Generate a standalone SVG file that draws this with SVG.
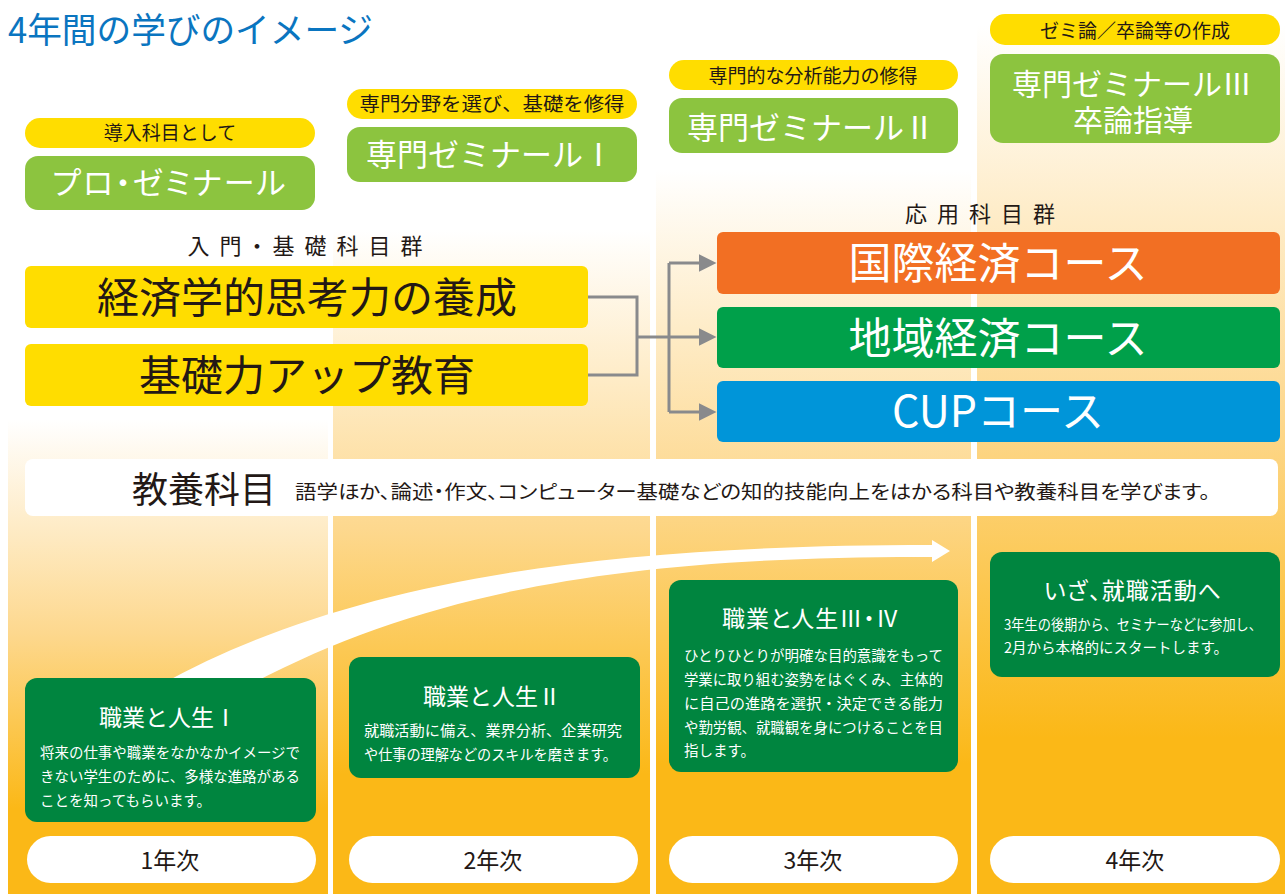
<svg xmlns="http://www.w3.org/2000/svg" width="1285" height="894" viewBox="0 0 1285 894">
<style>
text{font-family:"Noto Sans CJK JP","Noto Sans",sans-serif}
.dk{fill:#231815}
.wh{fill:#ffffff}
.pill{fill:#FFDD00}
.lg{fill:#8CC43F}
.yb{fill:#FFDD00}
.cg{fill:#00853F}
.pa{font-feature-settings:"palt"}
.conn{fill:none;stroke:#898A8C;stroke-width:3}
</style>
<defs>
<linearGradient id="colg" x1="0" y1="0" x2="0" y2="1">
<stop offset="0" stop-color="#FFFFFF"/>
<stop offset="0.45" stop-color="#FDD88E"/>
<stop offset="0.82" stop-color="#FBB817"/>
<stop offset="1" stop-color="#FBB817"/>
</linearGradient>
<marker id="ah" markerWidth="6" markerHeight="6" refX="0.5" refY="3" orient="auto" markerUnits="strokeWidth" viewBox="0 0 6 6">
<path d="M0,0 L6,3 L0,6 Z" fill="#898A8C"/>
</marker>
</defs>
<rect width="1285" height="894" fill="#ffffff"/>
<g id="columns">
<rect x="8" y="420" width="320" height="474" fill="url(#colg)"/>
<rect x="333" y="230" width="317" height="664" fill="url(#colg)"/>
<rect x="656" y="170" width="315" height="724" fill="url(#colg)"/>
<rect x="977" y="25" width="308" height="869" fill="url(#colg)"/>
</g>
<text x="8" y="43" font-size="35" fill="#0A75C0" textLength="365" lengthAdjust="spacingAndGlyphs">4年間の学びのイメージ</text>

<g id="seminar1">
<rect x="25" y="118" width="290" height="30" rx="15" class="pill"/>
<text x="170" y="140" font-size="19" text-anchor="middle" class="dk">導入科目として</text>
<rect x="25" y="156" width="290" height="54" rx="13" class="lg"/>
<text x="170" y="194" font-size="31" text-anchor="middle" class="wh pa" letter-spacing="2">プロ・ゼミナール</text>
</g>
<g id="seminar2">
<rect x="347" y="89" width="290" height="30" rx="15" class="pill"/>
<text x="492" y="111" font-size="19" text-anchor="middle" class="dk" textLength="265" lengthAdjust="spacingAndGlyphs">専門分野を選び、基礎を修得</text>
<rect x="347" y="127" width="290" height="55" rx="13" class="lg"/>
<text x="490" y="166" font-size="31" text-anchor="middle" class="wh">専門ゼミナールⅠ</text>
</g>
<g id="seminar3">
<rect x="669" y="60" width="289" height="30" rx="15" class="pill"/>
<text x="813" y="83" font-size="19" text-anchor="middle" class="dk">専門的な分析能力の修得</text>
<rect x="669" y="98" width="289" height="55" rx="13" class="lg"/>
<text x="811" y="139" font-size="31" text-anchor="middle" class="wh">専門ゼミナールⅡ</text>
</g>
<g id="seminar4">
<rect x="990" y="14" width="290" height="31" rx="15" class="pill"/>
<text x="1135" y="38" font-size="19" text-anchor="middle" class="dk">ゼミ論／卒論等の作成</text>
<rect x="990" y="54" width="290" height="89" rx="13" class="lg"/>
<text font-size="30" text-anchor="middle" class="wh"><tspan x="1132" y="95">専門ゼミナールⅢ</tspan><tspan x="1133" y="131">卒論指導</tspan></text>
</g>

<g id="basic">
<text x="310" y="254" font-size="22" text-anchor="middle" letter-spacing="10" class="dk pa">入門・基礎科目群</text>
<rect x="25" y="266" width="563" height="62" rx="6" class="yb"/>
<text x="307" y="313" font-size="42" text-anchor="middle" class="dk">経済学的思考力の養成</text>
<rect x="25" y="344" width="563" height="62" rx="6" class="yb"/>
<text x="307" y="391" font-size="42" text-anchor="middle" class="dk">基礎力アップ教育</text>
</g>
<g id="applied">
<text x="985" y="222" font-size="22" text-anchor="middle" letter-spacing="10" class="dk">応用科目群</text>
<rect x="717" y="232" width="563" height="62" rx="6" fill="#F26F23"/>
<text x="998" y="279" font-size="43" text-anchor="middle" class="wh">国際経済コース</text>
<rect x="717" y="307" width="563" height="61" rx="6" fill="#00A04A"/>
<text x="998" y="354" font-size="43" text-anchor="middle" class="wh">地域経済コース</text>
<rect x="717" y="381" width="563" height="61" rx="6" fill="#0095D9"/>
<text x="998" y="427" font-size="43" text-anchor="middle" class="wh">CUPコース</text>
</g>

<g id="connectors">
<path class="conn" d="M588,297 H637 V375 H588"/>
<path class="conn" d="M637,337 H669"/>
<path class="conn" d="M669,263 V412"/>
<path class="conn" d="M669,263 H700" marker-end="url(#ah)"/>
<path class="conn" d="M669,337 H700" marker-end="url(#ah)"/>
<path class="conn" d="M669,412 H700" marker-end="url(#ah)"/>
</g>

<g id="liberal">
<rect x="25" y="459" width="1253" height="57" rx="8" fill="#ffffff"/>
<text x="132" y="503" font-size="36" class="dk">教養科目</text>
<text x="295" y="499" font-size="19" textLength="915" lengthAdjust="spacingAndGlyphs" class="dk pa">語学ほか、論述・作文、コンピューター基礎などの知的技能向上をはかる科目や教養科目を学びます。</text>
</g>

<g id="flow-arrow">
<path d="M160,685 C350,580 600,545 932,545 L932,540 L950,551 L932,562 L932,557 C620,556 420,592 240,690 Z" fill="#ffffff"/>
</g>

<g id="career1">
<rect x="25" y="678" width="291" height="144" rx="12" class="cg"/>
<text x="168" y="726" font-size="23" text-anchor="middle" class="wh">職業と人生Ⅰ</text>
<text x="40" y="758" font-size="14.5" class="wh" textLength="260" lengthAdjust="spacingAndGlyphs">将来の仕事や職業をなかなかイメージで</text>
<text x="40" y="782" font-size="14.5" class="wh" textLength="260" lengthAdjust="spacingAndGlyphs">きない学生のために、多様な進路がある</text>
<text x="40" y="806" font-size="14.5" class="wh">ことを知ってもらいます。</text>
</g>
<g id="career2">
<rect x="349" y="657" width="291" height="121" rx="12" class="cg"/>
<text x="492" y="705" font-size="23" text-anchor="middle" class="wh">職業と人生Ⅱ</text>
<text x="364" y="736" font-size="14.5" class="wh" textLength="258" lengthAdjust="spacingAndGlyphs">就職活動に備え、業界分析、企業研究</text>
<text x="364" y="760" font-size="14.5" class="wh" textLength="253" lengthAdjust="spacingAndGlyphs">や仕事の理解などのスキルを磨きます。</text>
</g>
<g id="career3">
<rect x="669" y="580" width="289" height="192" rx="12" class="cg"/>
<text x="811" y="627" font-size="23" text-anchor="middle" class="wh pa" letter-spacing="1">職業と人生Ⅲ・Ⅳ</text>
<text x="684" y="661" font-size="14.5" class="wh" textLength="259" lengthAdjust="spacingAndGlyphs">ひとりひとりが明確な目的意識をもって</text>
<text x="684" y="685" font-size="14.5" class="wh" textLength="259" lengthAdjust="spacingAndGlyphs">学業に取り組む姿勢をはぐくみ、主体的</text>
<text x="684" y="709" font-size="14.5" class="wh" textLength="259" lengthAdjust="spacingAndGlyphs">に自己の進路を選択・決定できる能力</text>
<text x="684" y="733" font-size="14.5" class="wh" textLength="259" lengthAdjust="spacingAndGlyphs">や勤労観、就職観を身につけることを目</text>
<text x="684" y="756" font-size="14.5" class="wh">指します。</text>
</g>
<g id="career4">
<rect x="990" y="552" width="290" height="125" rx="12" class="cg"/>
<text x="1133" y="599" font-size="23" text-anchor="middle" class="wh pa" letter-spacing="1">いざ、就職活動へ</text>
<text x="1004" y="630" font-size="14.5" class="wh" textLength="258" lengthAdjust="spacingAndGlyphs">3年生の後期から、セミナーなどに参加し、</text>
<text x="1004" y="653" font-size="14.5" class="wh">2月から本格的にスタートします。</text>
</g>

<g id="year1">
<rect x="27" y="836" width="289" height="47" rx="23.5" fill="#ffffff"/>
<text x="170" y="869" font-size="23" text-anchor="middle" class="dk">1年次</text>
</g>
<g id="year2">
<rect x="349" y="836" width="289" height="47" rx="23.5" fill="#ffffff"/>
<text x="493" y="869" font-size="23" text-anchor="middle" class="dk">2年次</text>
</g>
<g id="year3">
<rect x="669" y="836" width="289" height="47" rx="23.5" fill="#ffffff"/>
<text x="813" y="869" font-size="23" text-anchor="middle" class="dk">3年次</text>
</g>
<g id="year4">
<rect x="990" y="836" width="290" height="47" rx="23.5" fill="#ffffff"/>
<text x="1135" y="869" font-size="23" text-anchor="middle" class="dk">4年次</text>
</g>
</svg>
